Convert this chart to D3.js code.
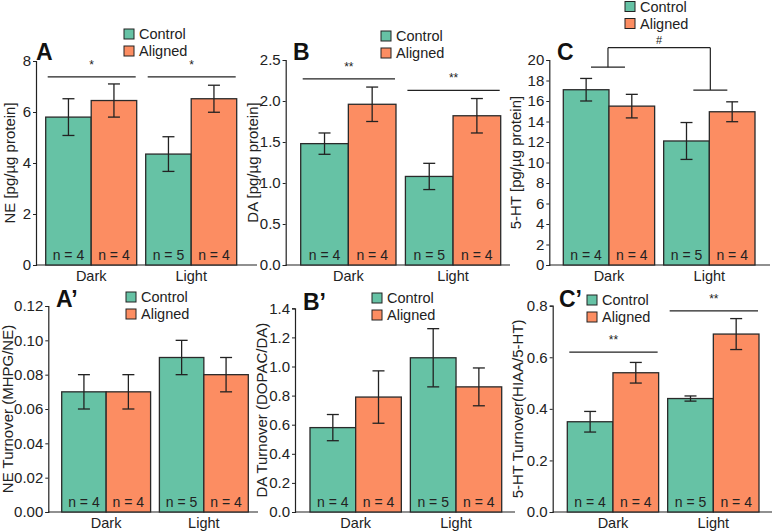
<!DOCTYPE html>
<html><head><meta charset="utf-8">
<script src="https://cdn.jsdelivr.net/npm/d3@7"></script>
<style>body{margin:0;background:#fff}svg{display:block;font-family:"Liberation Sans",Arial,sans-serif}</style>
</head><body><svg id="c" width="775" height="531"></svg>
<script>
// ---- data ----
const groups = ["Dark", "Light"];
const seriesNames = ["Control", "Aligned"];
const nControl = [4, 5];
const nAligned = [4, 4];

const neControl = [5.8, 4.35], neAligned = [6.45, 6.52];
const neControlErr = [0.72, 0.68], neAlignedErr = [0.65, 0.53];
const neTicks = [0, 2, 4, 6, 8];

const daControl = [1.48, 1.08], daAligned = [1.96, 1.82];
const daControlErr = [0.13, 0.16], daAlignedErr = [0.21, 0.21];
const daTicks = [0, 0.5, 1.0, 1.5, 2.0, 2.5];

const htControl = [17.1, 12.1], htAligned = [15.5, 14.95];
const htControlErr = [1.1, 1.8], htAlignedErr = [1.15, 0.97];
const htTicks = [0, 2, 4, 6, 8, 10, 12, 14, 16, 18, 20];

const neTurnControl = [0.07, 0.09], neTurnAligned = [0.07, 0.08];
const neTurnControlErr = [0.01, 0.01], neTurnAlignedErr = [0.01, 0.01];
const neTurnTicks = [0, 0.02, 0.04, 0.06, 0.08, 0.10, 0.12];

const daTurnControl = [0.58, 1.06], daTurnAligned = [0.79, 0.86];
const daTurnControlErr = [0.09, 0.2], daTurnAlignedErr = [0.18, 0.13];
const daTurnTicks = [0, 0.2, 0.4, 0.6, 0.8, 1.0, 1.2, 1.4];

const htTurnControl = [0.35, 0.44], htTurnAligned = [0.54, 0.69];
const htTurnControlErr = [0.04, 0.01], htTurnAlignedErr = [0.04, 0.06];
const htTurnTicks = [0, 0.2, 0.4, 0.6, 0.8];

// ---- drawing ----
const colors = {Control: "#66c2a5", Aligned: "#fc8d62"};
const svg = d3.select("#c");

function panel(p) {
  const g = svg.append("g");
  const y = d3.scaleLinear().domain([0, p.ticks[p.ticks.length - 1]]).range([p.yBot, p.yTop]);
  const xg = d3.scaleBand().domain(groups).range([p.barsL, p.barsR]).paddingInner(0.09).paddingOuter(0);
  const xs = d3.scaleBand().domain(seriesNames).range([0, xg.bandwidth()]).padding(0);

  const rows = [];
  groups.forEach((gr, i) => {
    rows.push({g: gr, s: "Control", v: p.control[i], e: p.cErr[i], n: nControl[i]});
    rows.push({g: gr, s: "Aligned", v: p.aligned[i], e: p.aErr[i], n: nAligned[i]});
  });

  // y axis
  const ya = g.append("g").attr("transform", `translate(${p.axisX},0)`)
    .call(d3.axisLeft(y).tickValues(p.ticks).tickFormat(d3.format(p.fmt)).tickSizeOuter(0).tickSize(3).tickPadding(2));
  ya.select(".domain").attr("stroke", "#222").attr("stroke-width", 1.2);
  ya.selectAll(".tick line").attr("stroke", "#222");
  ya.selectAll("text").attr("font-size", 15).attr("fill", "#222").attr("font-family", "Liberation Sans, Arial");
  // x axis line
  g.append("line").attr("x1", p.axisX).attr("x2", p.axisEnd).attr("y1", p.yBot).attr("y2", p.yBot)
    .attr("stroke", "#222").attr("stroke-width", 1.2);

  // bars
  g.selectAll("rect.bar").data(rows).enter().append("rect")
    .attr("x", d => xg(d.g) + xs(d.s)).attr("width", xs.bandwidth())
    .attr("y", d => y(d.v)).attr("height", d => y(0) - y(d.v))
    .attr("fill", d => colors[d.s]).attr("stroke", "#2a2a2a").attr("stroke-width", 1.3);

  // error bars
  const cx = d => xg(d.g) + xs(d.s) + xs.bandwidth() / 2;
  const eb = g.selectAll("g.eb").data(rows).enter().append("g").attr("stroke", "#222").attr("stroke-width", 1.3);
  eb.append("line").attr("x1", cx).attr("x2", cx).attr("y1", d => y(d.v + d.e)).attr("y2", d => y(d.v - d.e));
  eb.append("line").attr("x1", d => cx(d) - 6).attr("x2", d => cx(d) + 6).attr("y1", d => y(d.v + d.e)).attr("y2", d => y(d.v + d.e));
  eb.append("line").attr("x1", d => cx(d) - 6).attr("x2", d => cx(d) + 6).attr("y1", d => y(d.v - d.e)).attr("y2", d => y(d.v - d.e));

  // n labels
  g.selectAll("text.n").data(rows).enter().append("text")
    .attr("x", cx).attr("y", p.yBot - 5).attr("text-anchor", "middle")
    .attr("font-size", 14).attr("fill", "#222").text(d => `n = ${d.n}`);

  // group labels
  g.selectAll("text.gl").data(groups).enter().append("text")
    .attr("x", d => xg(d) + xg.bandwidth() / 2).attr("y", p.yBot + 16).attr("text-anchor", "middle")
    .attr("font-size", 14.5).attr("fill", "#222").text(d => d);

  // y label
  g.append("text").attr("transform", `translate(${p.ylabelX},${(p.yTop + p.yBot) / 2}) rotate(-90)`)
    .attr("text-anchor", "middle").attr("font-size", 15).attr("fill", "#222").text(p.ylabel);

  // panel letter
  g.append("text").attr("x", p.letterX).attr("y", p.letterY).attr("font-size", 23).attr("font-weight", "bold")
    .attr("fill", "#111").text(p.letter);

  // legend
  seriesNames.forEach((s, i) => {
    const ly = p.legY + i * 17;
    g.append("rect").attr("x", p.legX).attr("y", ly).attr("width", 10).attr("height", 10)
      .attr("fill", colors[s]).attr("stroke", "#222").attr("stroke-width", 1);
    g.append("text").attr("x", p.legX + 15).attr("y", ly + 10).attr("font-size", 14.5).attr("fill", "#222").text(s);
  });

  // significance lines per group
  (p.sig || []).forEach(sg => {
    const x1 = xg(sg.g) + 2, x2 = xg(sg.g) + xg.bandwidth() - 1;
    g.append("line").attr("x1", x1).attr("x2", x2).attr("y1", y(sg.v)).attr("y2", y(sg.v))
      .attr("stroke", "#222").attr("stroke-width", 1.2);
    g.append("text").attr("x", (x1 + x2) / 2).attr("y", y(sg.v) - 8).attr("text-anchor", "middle")
      .attr("font-size", 12).attr("fill", "#222").text(sg.t);
  });

  // bracket (main effect)
  if (p.bracket) {
    const b = p.bracket;
    const gc = gr => xg(gr) + xg.bandwidth() / 2;
    const l1 = gc(groups[0]) - 1, l2 = gc(groups[1]) + 1;
    const sw = 17;
    const st = {stroke: "#222", "stroke-width": 1.2};
    const ln = (a, b2, c, d) => { const L = g.append("line").attr("x1", a).attr("x2", b2).attr("y1", c).attr("y2", d); Object.entries(st).forEach(([k, v]) => L.attr(k, v)); };
    ln(l1 - sw, l1 + sw, y(b.left), y(b.left));
    ln(l1, l1, y(b.left), y(b.top));
    ln(l1, l2, y(b.top), y(b.top));
    ln(l2, l2, y(b.top), y(b.right));
    ln(l2 - sw, l2 + sw, y(b.right), y(b.right));
    g.append("text").attr("x", (l1 + l2) / 2).attr("y", y(b.top) - 4).attr("text-anchor", "middle")
      .attr("font-size", 11).attr("fill", "#222").text(b.t);
  }
}

panel({axisX: 36, barsL: 45.7, barsR: 236.7, axisEnd: 257, yTop: 61, yBot: 265,
  ticks: neTicks, fmt: "d", control: neControl, aligned: neAligned, cErr: neControlErr, aErr: neAlignedErr,
  ylabel: "NE [pg/µg protein]", ylabelX: 15, letter: "A", letterX: 36, letterY: 60, legX: 124, legY: 29,
  sig: [{g: "Dark", v: 7.38, t: "*"}, {g: "Light", v: 7.38, t: "*"}]});

panel({axisX: 285.7, barsL: 300.7, barsR: 500.7, axisEnd: 510, yTop: 60, yBot: 265,
  ticks: daTicks, fmt: ".1f", control: daControl, aligned: daAligned, cErr: daControlErr, aErr: daAlignedErr,
  ylabel: "DA [pg/µg protein]", ylabelX: 258, letter: "B", letterX: 293, letterY: 60, legX: 381, legY: 31,
  sig: [{g: "Dark", v: 2.27, t: "**"}, {g: "Light", v: 2.13, t: "**"}]});

panel({axisX: 549.3, barsL: 563.3, barsR: 755, axisEnd: 770, yTop: 60, yBot: 265,
  ticks: htTicks, fmt: "d", control: htControl, aligned: htAligned, cErr: htControlErr, aErr: htAlignedErr,
  ylabel: "5-HT [pg/µg protein]", ylabelX: 521, letter: "C", letterX: 557, letterY: 60, legX: 625, legY: 1.5,
  bracket: {left: 19.3, top: 21.2, right: 17.07, t: "#"}});

panel({axisX: 48.3, barsL: 61.7, barsR: 248.3, axisEnd: 258, yTop: 306, yBot: 512,
  ticks: neTurnTicks, fmt: ".2f", control: neTurnControl, aligned: neTurnAligned, cErr: neTurnControlErr, aErr: neTurnAlignedErr,
  ylabel: "NE Turnover (MHPG/NE)", ylabelX: 12.5, letter: "A’", letterX: 56, letterY: 307, legX: 126, legY: 292});

panel({axisX: 295, barsL: 310, barsR: 501.7, axisEnd: 515, yTop: 308.3, yBot: 512,
  ticks: daTurnTicks, fmt: ".1f", control: daTurnControl, aligned: daTurnAligned, cErr: daTurnControlErr, aErr: daTurnAlignedErr,
  ylabel: "DA Turnover (DOPAC/DA)", ylabelX: 267, letter: "B’", letterX: 303, letterY: 310, legX: 372, legY: 293});

panel({axisX: 552.7, barsL: 567.3, barsR: 759, axisEnd: 772, yTop: 305.7, yBot: 512,
  ticks: htTurnTicks, fmt: ".1f", control: htTurnControl, aligned: htTurnAligned, cErr: htTurnControlErr, aErr: htTurnAlignedErr,
  ylabel: "5-HT Turnover(HIAA/5-HT)", ylabelX: 523, letter: "C’", letterX: 559, letterY: 307, legX: 587, legY: 295,
  sig: [{g: "Dark", v: 0.62, t: "**"}, {g: "Light", v: 0.78, t: "**"}]});
</script></body></html>
